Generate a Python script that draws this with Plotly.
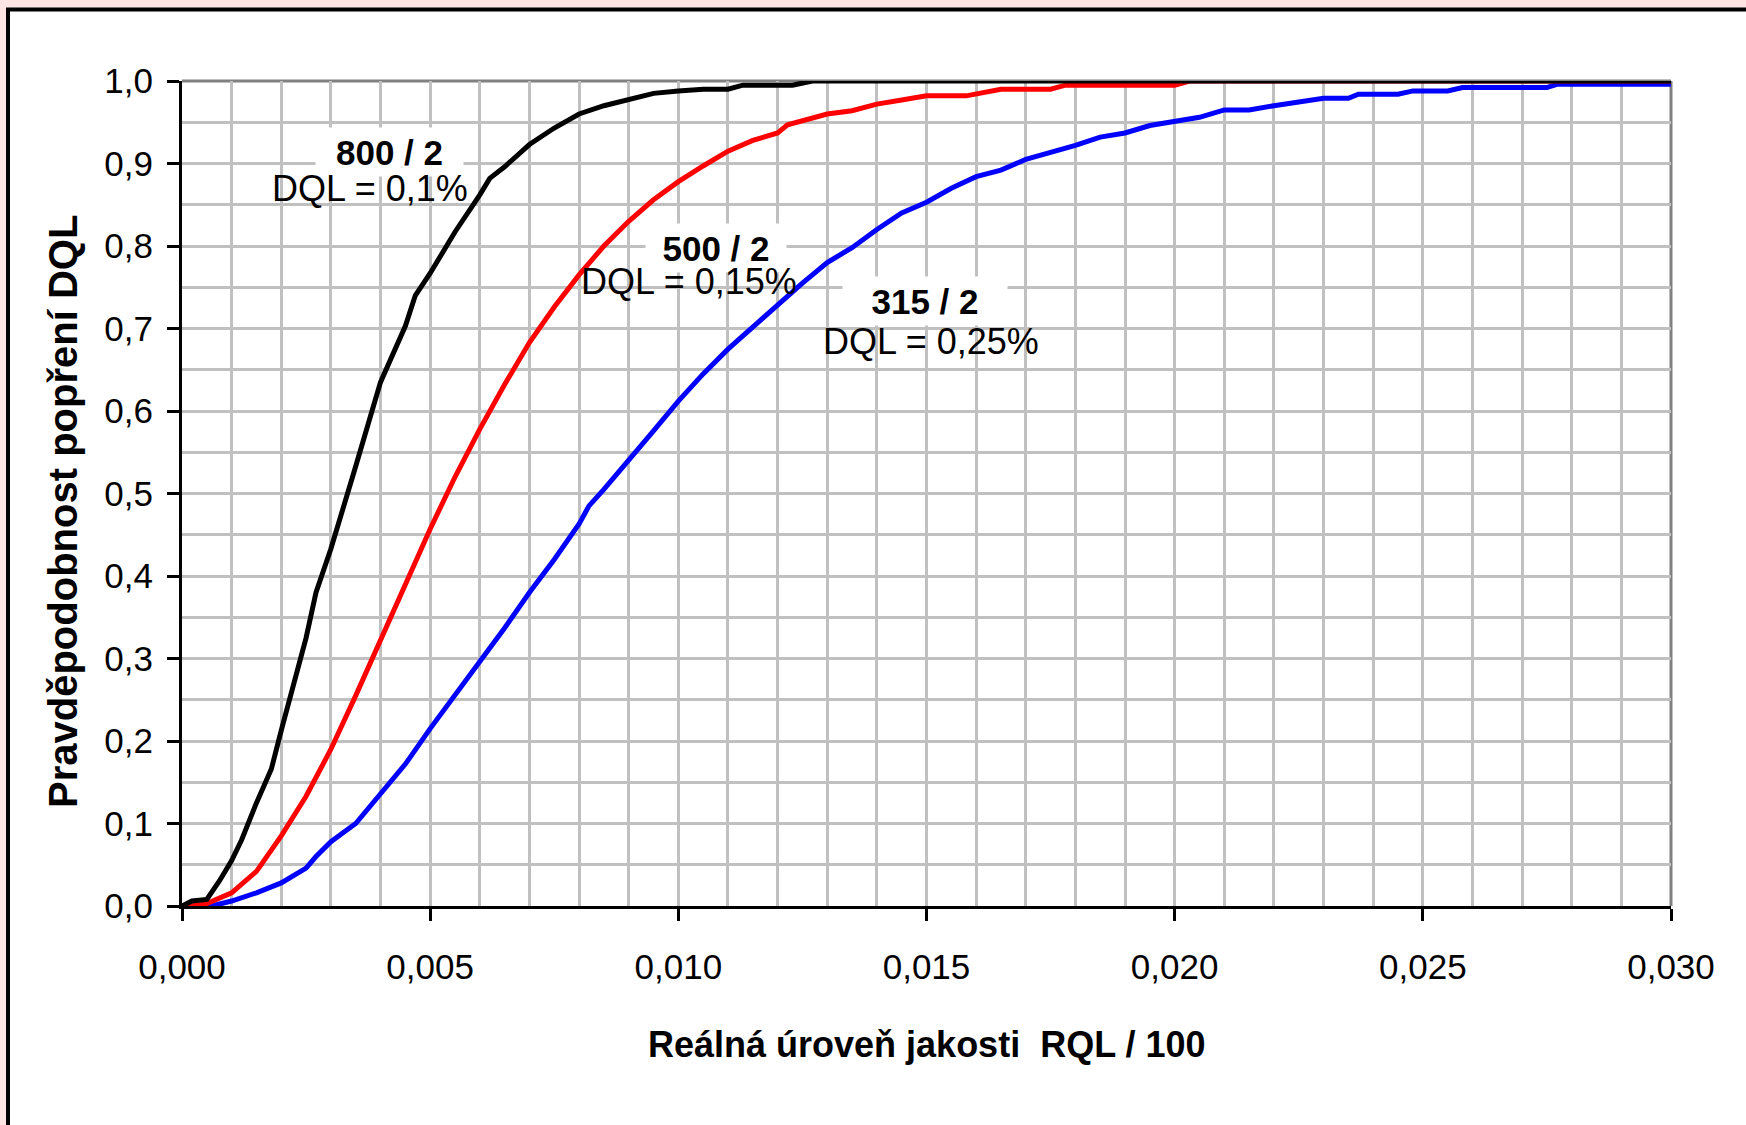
import plotly.graph_objects as go

# ---- data ----
x_800 = [0.0, 0.0002, 0.0005, 0.00075, 0.001, 0.0012, 0.0015, 0.0018, 0.002, 0.0022, 0.0025,
         0.0027, 0.003, 0.0035, 0.004, 0.0045, 0.0047, 0.005, 0.0055, 0.006, 0.0062, 0.0065,
         0.007, 0.0075, 0.008, 0.0085, 0.009, 0.0095, 0.010, 0.0105, 0.011, 0.0113, 0.0123,
         0.0127, 0.030]
y_800 = [0.0, 0.006, 0.008, 0.03, 0.055, 0.08, 0.125, 0.166, 0.213, 0.26, 0.325,
         0.38, 0.433, 0.533, 0.635, 0.703, 0.74, 0.767, 0.817, 0.862, 0.882, 0.896,
         0.923, 0.943, 0.96, 0.97, 0.977, 0.985, 0.988, 0.99, 0.99, 0.995, 0.995,
         1.0, 1.0]

x_500 = [0.0, 0.0002, 0.0005, 0.001, 0.0015, 0.002, 0.0025, 0.003, 0.0035, 0.004, 0.0045,
         0.005, 0.0055, 0.006, 0.0065, 0.007, 0.0075, 0.008, 0.0085, 0.009, 0.0095, 0.010,
         0.0105, 0.011, 0.0115, 0.012, 0.0122, 0.0125, 0.013, 0.0135, 0.014, 0.0145, 0.015,
         0.0158, 0.0163, 0.0165, 0.0175, 0.0178, 0.0200, 0.0203, 0.030]
y_500 = [0.0, 0.0, 0.003, 0.016, 0.042, 0.085, 0.133, 0.19, 0.255, 0.322, 0.39,
         0.457, 0.52, 0.578, 0.632, 0.683, 0.726, 0.765, 0.8, 0.83, 0.856, 0.878,
         0.897, 0.915, 0.928, 0.937, 0.947, 0.952, 0.96, 0.964, 0.972, 0.977, 0.982,
         0.982, 0.988, 0.99, 0.99, 0.995, 0.995, 1.0, 1.0]

x_315 = [0.0, 0.0006, 0.001, 0.0015, 0.002, 0.0025, 0.0027, 0.003, 0.0035, 0.004, 0.0045,
         0.005, 0.0055, 0.006, 0.0065, 0.007, 0.0075, 0.008, 0.0082, 0.0085, 0.0088, 0.009,
         0.0095, 0.010, 0.0105, 0.011, 0.0115, 0.012, 0.0125, 0.013, 0.0135, 0.014, 0.0145,
         0.015, 0.0155, 0.016, 0.0165, 0.017, 0.0175, 0.018, 0.0185, 0.019, 0.0195, 0.020,
         0.0205, 0.021, 0.0215, 0.022, 0.0225, 0.023, 0.0235, 0.0237, 0.0245, 0.0248,
         0.0255, 0.0258, 0.0275, 0.0277, 0.030]
y_315 = [0.0, 0.0, 0.006, 0.016, 0.028, 0.046, 0.06, 0.078, 0.1, 0.136, 0.172,
         0.215, 0.255, 0.295, 0.337, 0.38, 0.42, 0.463, 0.485, 0.505, 0.527, 0.54,
         0.576, 0.612, 0.645, 0.675, 0.702, 0.728, 0.755, 0.78, 0.798, 0.82, 0.84,
         0.853, 0.87, 0.884, 0.892, 0.905, 0.913, 0.922, 0.932, 0.937, 0.946, 0.951,
         0.956, 0.965, 0.965, 0.97, 0.975, 0.979, 0.979, 0.984, 0.984, 0.988,
         0.988, 0.992, 0.992, 0.996, 0.996]

x_ticks = [0.0, 0.005, 0.010, 0.015, 0.020, 0.025, 0.030]
x_tick_text = ["0,000", "0,005", "0,010", "0,015", "0,020", "0,025", "0,030"]
y_ticks = [0.0, 0.1, 0.2, 0.3, 0.4, 0.5, 0.6, 0.7, 0.8, 0.9, 1.0]
y_tick_text = ["0,0", "0,1", "0,2", "0,3", "0,4", "0,5", "0,6", "0,7", "0,8", "0,9", "1,0"]

labels_bold = ["800 / 2", "500 / 2", "315 / 2"]
labels_dql = ["DQL = 0,1%", "DQL = 0,15%", "DQL = 0,25%"]

FONT = "Liberation Sans, Arial, sans-serif"
GRID = "#C0C0C0"

fig = go.Figure()
fig.add_trace(go.Scatter(x=x_315, y=y_315, mode="lines", line=dict(color="#0000FF", width=5), name="315 / 2"))
fig.add_trace(go.Scatter(x=x_500, y=y_500, mode="lines", line=dict(color="#FF0000", width=5), name="500 / 2"))
fig.add_trace(go.Scatter(x=x_800, y=y_800, mode="lines", line=dict(color="#000000", width=5), name="800 / 2"))

W, H = 1746, 1125
L, R, T, B = 182, 75, 81, 219
pw, ph = W - L - R, H - T - B


def px_x(p):
    return (p - L) / pw


def px_y(p):
    return (H - B - p) / ph


shapes = [
    # white chart frame with black border (extends past right/bottom edges)
    dict(type="rect", xref="paper", yref="paper", x0=px_x(8), x1=1.3, y0=-0.5, y1=px_y(9.5),
         fillcolor="white", line=dict(color="black", width=4), layer="below"),
    # gray top/right plot border
    dict(type="line", xref="paper", yref="paper", x0=0, x1=1, y0=1, y1=1,
         line=dict(color="#808080", width=3), layer="between"),
    dict(type="line", xref="paper", yref="paper", x0=1, x1=1, y0=0, y1=1,
         line=dict(color="#808080", width=3), layer="between"),
]

annotations = []
# curve labels: bold text with white box, DQL text without box
bold_pos = [(0.00419, 0.914), (0.01076, 0.797), (0.01496, 0.733)]
dql_pos = [(0.00379, 0.870), (0.01021, 0.757), (0.01509, 0.684)]
box_w = [145, 138, 162]
for i in range(3):
    annotations.append(dict(x=bold_pos[i][0], y=bold_pos[i][1], xref="x", yref="y",
                            xanchor="center", yanchor="middle",
                            text="<b>" + labels_bold[i] + "</b>", showarrow=False,
                            font=dict(family=FONT, size=35, color="black"),
                            bgcolor="white", width=box_w[i], height=46))
    annotations.append(dict(x=dql_pos[i][0], y=dql_pos[i][1], xref="x", yref="y",
                            xanchor="center", yanchor="middle",
                            text=labels_dql[i], showarrow=False,
                            font=dict(family=FONT, size=36, color="black")))

annotations.append(dict(x=0.5, y=px_y(1044), xref="paper", yref="paper",
                        xanchor="center", yanchor="middle",
                        text="<b>Reálná úroveň jakosti  RQL / 100</b>", showarrow=False,
                        font=dict(family=FONT, size=36, color="black")))
annotations.append(dict(x=px_x(63), y=px_y(512), xref="paper", yref="paper",
                        xanchor="center", yanchor="middle",
                        text="<b>Pravděpodobnost popření DQL</b>", showarrow=False, textangle=-90,
                        font=dict(family=FONT, size=40, color="black")))

fig.update_layout(
    width=W, height=H,
    margin=dict(l=L, r=R, t=T, b=B, pad=0),
    paper_bgcolor="#FFE4E4",
    plot_bgcolor="white",
    showlegend=False,
    shapes=shapes,
    annotations=annotations,
    font=dict(family=FONT, size=35, color="black"),
)
fig.update_xaxes(
    range=[0, 0.030], tickvals=x_ticks, ticktext=x_tick_text,
    ticks="outside", ticklen=12, tickwidth=3, tickcolor="black",
    showline=True, linecolor="black", linewidth=3,
    showgrid=True, gridcolor=GRID, gridwidth=2.5, zeroline=False,
    minor=dict(dtick=0.001, tick0=0, showgrid=True, gridcolor=GRID, gridwidth=2.5, ticks=""),
    tickfont=dict(family=FONT, size=35), ticklabelstandoff=16,
)
fig.update_yaxes(
    range=[0, 1.0], tickvals=y_ticks, ticktext=y_tick_text,
    ticks="outside", ticklen=12, tickwidth=3, tickcolor="black",
    showline=True, linecolor="black", linewidth=3,
    showgrid=True, gridcolor=GRID, gridwidth=2.5, zeroline=False,
    minor=dict(dtick=0.05, tick0=0, showgrid=True, gridcolor=GRID, gridwidth=2.5, ticks=""),
    tickfont=dict(family=FONT, size=35), ticklabelstandoff=7,
)

fig.write_html("out.html")
